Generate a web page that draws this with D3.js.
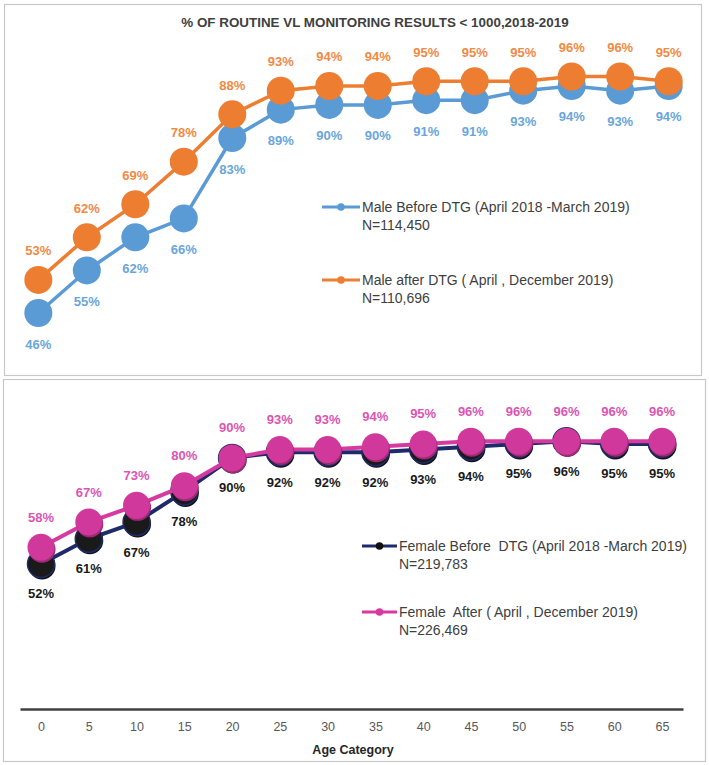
<!DOCTYPE html>
<html>
<head>
<meta charset="utf-8">
<script src="https://cdn.jsdelivr.net/npm/d3@7"></script>
<style>
  html, body { margin: 0; padding: 0; background: #fff; }
  svg { display: block; font-family: "Liberation Sans", Arial, sans-serif; }
  text { white-space: pre; }
</style>
</head>
<body>
<svg id="chart" width="709" height="765"></svg>
<script>
// ---- data ----
const ages = [0, 5, 10, 15, 20, 25, 30, 35, 40, 45, 50, 55, 60, 65];
const maleBefore = [46, 55, 62, 66, 83, 89, 90, 90, 91, 91, 93, 94, 93, 94];
const maleAfter = [53, 62, 69, 78, 88, 93, 94, 94, 95, 95, 95, 96, 96, 95];
const femaleBefore = [52, 61, 67, 78, 90, 92, 92, 92, 93, 94, 95, 96, 95, 95];
const femaleAfter = [58, 67, 73, 80, 90, 93, 93, 94, 95, 96, 96, 96, 96, 96];
const titleText = "% OF ROUTINE VL MONITORING RESULTS < 1000,2018-2019";
const maleLegend = [
  ["Male Before DTG (April 2018 -March 2019)", "N=114,450"],
  ["Male after DTG ( April , December 2019)", "N=110,696"]
];
const femaleLegend = [
  ["Female Before  DTG (April 2018 -March 2019)", "N=219,783"],
  ["Female  After ( April , December 2019)", "N=226,469"]
];
const xAxisTitle = "Age Category";

const svg = d3.select("#chart");

// panel frames
svg.append("rect").attr("x", 4.5).attr("y", 4.5).attr("width", 697).attr("height", 371)
  .attr("fill", "#fff").attr("stroke", "#c8c8c8").attr("stroke-width", 1.2);
svg.append("rect").attr("x", 3.5).attr("y", 379.5).attr("width", 702).attr("height", 382)
  .attr("fill", "#fff").attr("stroke", "#c8c8c8").attr("stroke-width", 1.2);

// title
svg.append("text").attr("x", 375).attr("y", 22).attr("text-anchor", "middle")
  .attr("dominant-baseline", "central")
  .attr("font-size", 13.4).attr("font-weight", "bold").attr("fill", "#404040")
  .text(titleText);

// ---- scales ----
const xTop = d3.scalePoint().domain(ages).range([17, 690]).padding(0.44);
const yTop = d3.scaleLinear().domain([40, 100]).range([341.4, 57.6]);
const xBot = d3.scalePoint().domain(ages).range([20, 683]).padding(0.44);
const yBot = d3.scaleLinear().domain([0, 100]).range([709, 430]);

function drawSeries(g, xs, ys, vals, opt) {
  const data = ages.map((a, i) => ({ a, v: vals[i] }));
  const line = d3.line().x(d => xs(d.a)).y(d => ys(d.v));
  g.append("path").datum(data).attr("d", line)
    .attr("fill", "none").attr("stroke", opt.line).attr("stroke-width", opt.lw || 3.5)
    .attr("stroke-linejoin", "round");
  if (opt.shadow) {
    g.selectAll(null).data(data).enter().append("circle")
      .attr("cx", d => xs(d.a) + 1).attr("cy", d => ys(d.v) + 2).attr("r", opt.r)
      .attr("fill", opt.shadow);
  }
  g.selectAll(null).data(data).enter().append("circle")
    .attr("cx", d => xs(d.a)).attr("cy", d => ys(d.v)).attr("r", opt.r)
    .attr("fill", opt.fill).attr("stroke", opt.stroke || "none").attr("stroke-width", opt.sw || 0);
}
function drawLabels(g, xs, ys, vals, color, dy) {
  g.selectAll(null).data(ages.map((a, i) => ({ a, v: vals[i] }))).enter().append("text")
    .attr("x", d => xs(d.a)).attr("y", d => ys(d.v) + dy)
    .attr("text-anchor", "middle").attr("dominant-baseline", "central")
    .attr("font-size", 13).attr("font-weight", "bold").attr("fill", color)
    .text(d => d.v + "%");
}
function drawLegend(g, x0, x1, xt, y, item, color, dot) {
  g.append("line").attr("x1", x0).attr("x2", x1).attr("y1", y).attr("y2", y)
    .attr("stroke", color).attr("stroke-width", 3);
  g.append("circle").attr("cx", (x0 + x1) / 2).attr("cy", y).attr("r", 3.8).attr("fill", dot || color);
  g.append("text").attr("x", xt).attr("y", y).attr("dominant-baseline", "central")
    .attr("font-size", 14).attr("fill", "#404040").text(item[0]);
  g.append("text").attr("x", xt).attr("y", y + 18).attr("dominant-baseline", "central")
    .attr("font-size", 14).attr("fill", "#404040").text(item[1]);
}

// ---- top panel (male) ----
const gTop = svg.append("g");
drawSeries(gTop, xTop, yTop, maleBefore, { line: "#5B9BD5", fill: "#5B9BD5", r: 14 });
drawSeries(gTop, xTop, yTop, maleAfter, { line: "#ED7D31", fill: "#ED7D31", r: 14 });
drawLabels(gTop, xTop, yTop, maleBefore, "#6AA6DB", 31);
drawLabels(gTop, xTop, yTop, maleAfter, "#F08A45", -29);
drawLegend(gTop, 322, 360, 362, 207, maleLegend[0], "#5B9BD5");
drawLegend(gTop, 322, 360, 362, 280, maleLegend[1], "#ED7D31");

// ---- bottom panel (female) ----
const gBot = svg.append("g");
drawSeries(gBot, xBot, yBot, femaleBefore, { line: "#1F2A6B", lw: 4, fill: "#1a1a1a", stroke: "#1F2A6B", sw: 1.5, r: 13.5, shadow: "#111" });
drawSeries(gBot, xBot, yBot, femaleAfter, { line: "#D63AA0", lw: 4, fill: "#D0389C", r: 13.5, shadow: "#9e2a76" });
drawLabels(gBot, xBot, yBot, femaleBefore, "#1a1a1a", 30);
drawLabels(gBot, xBot, yBot, femaleAfter, "#DC55B2", -30);
drawLegend(gBot, 362, 397, 399, 546, femaleLegend[0], "#1F2A6B", "#111");
drawLegend(gBot, 362, 397, 399, 612, femaleLegend[1], "#D63AA0");

// ---- bottom axis ----
const axis = svg.append("g").attr("transform", "translate(0,709)")
  .call(d3.axisBottom(xBot).tickSize(0).tickPadding(13));
axis.select(".domain").attr("stroke", "#404040").attr("stroke-width", 2.5);
axis.selectAll("text").attr("font-size", 12.5).attr("fill", "#595959")
  .attr("font-family", "\"Liberation Sans\", Arial, sans-serif");
svg.append("text").attr("x", 353).attr("y", 750).attr("text-anchor", "middle")
  .attr("dominant-baseline", "central").attr("font-size", 12.5).attr("font-weight", "bold")
  .attr("fill", "#262626").text(xAxisTitle);
</script>
</body>
</html>
